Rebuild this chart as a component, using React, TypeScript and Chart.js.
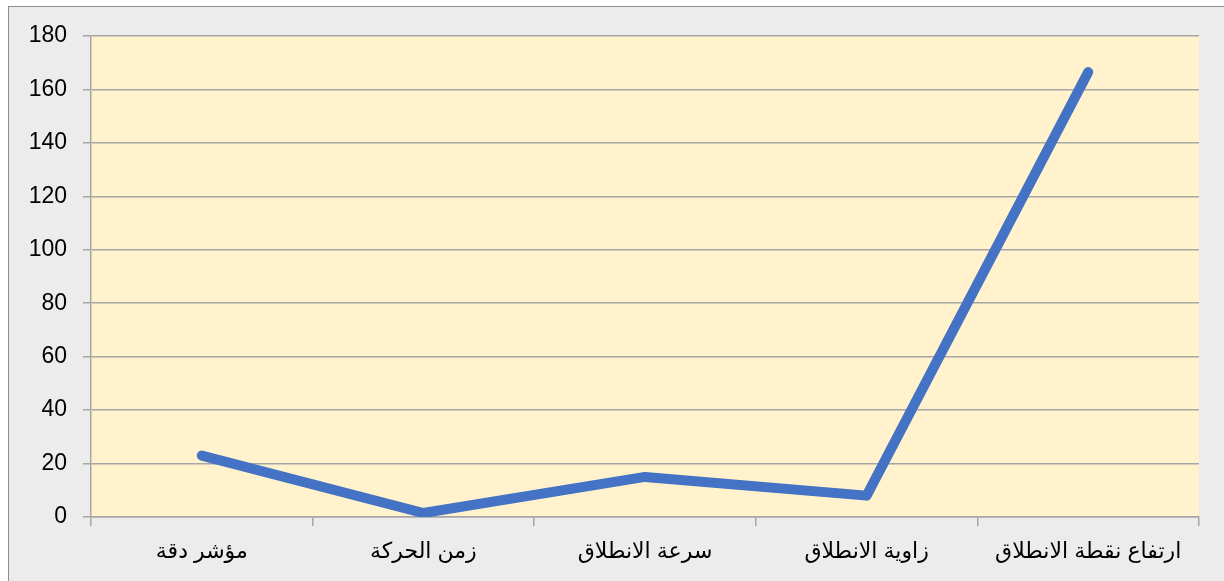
import React, { useEffect, useRef } from "react";
import { Chart, registerables } from "chart.js";

Chart.register(...registerables);

const categories = [
  "مؤشر دقة",
  "زمن الحركة",
  "سرعة الانطلاق",
  "زاوية الانطلاق",
  "ارتفاع نقطة الانطلاق",
];
const values = [23, 1.5, 15, 8, 166.5];
const yMin = 0;
const yMax = 180;
const yStep = 20;

const plotBg = {
  id: "plotBg",
  beforeDraw(chart: any) {
    const { ctx, chartArea } = chart;
    if (!chartArea) return;
    ctx.save();
    ctx.fillStyle = "#FFF2CC";
    ctx.fillRect(chartArea.left, chartArea.top, chartArea.right - chartArea.left, chartArea.bottom - chartArea.top);
    ctx.restore();
  },
};

export default function App() {
  const ref = useRef<HTMLCanvasElement>(null);
  useEffect(() => {
    if (!ref.current) return;
    const family = "'Liberation Sans', 'DejaVu Sans', Arial, sans-serif";
    const chart = new Chart(ref.current, {
      type: "line",
      data: {
        labels: categories,
        datasets: [
          {
            data: values,
            borderColor: "#4472C4",
            borderWidth: 10,
            borderCapStyle: "round",
            borderJoinStyle: "round",
            pointRadius: 0,
            fill: false,
            tension: 0,
          },
        ],
      },
      options: {
        animation: false,
        responsive: false,
        maintainAspectRatio: false,
        layout: { padding: { left: 0, top: 36, right: 25, bottom: 0 } },
        plugins: { legend: { display: false }, tooltip: { enabled: false } },
        scales: {
          x: {
            type: "category",
            offset: true,
            grid: {
              offset: true,
              drawOnChartArea: false,
              drawTicks: true,
              tickLength: 9,
              color: "#A6A6A6",
              lineWidth: 1.5,
            },
            border: { display: true, color: "#A6A6A6", width: 1.5 },
            ticks: { font: { family, size: 22 }, color: "#000000", padding: 13, maxRotation: 0, autoSkip: false },
            afterFit(scale: any) {
              scale.height = 64;
            },
          },
          y: {
            min: yMin,
            max: yMax,
            ticks: { stepSize: yStep, font: { family, size: 23 }, color: "#000000", padding: 16 },
            grid: {
              color: "#A6A6A6",
              lineWidth: 1.5,
              drawTicks: true,
              tickLength: 8,
            },
            border: { display: true, color: "#A6A6A6", width: 1.5 },
            afterFit(scale: any) {
              scale.width = 91;
            },
          },
        },
      },
      plugins: [plotBg],
    });
    return () => chart.destroy();
  }, []);
  return (
    <div style={{ position: "fixed", left: 0, top: 0, width: 1224, height: 581, background: "#FFFFFF" }}>
      <div
        style={{
          position: "absolute",
          left: 8,
          top: 6,
          width: 1230,
          height: 590,
          background: "#ECECEC",
          borderLeft: "1.5px solid #8F8F8F",
          borderTop: "1.5px solid #8F8F8F",
        }}
      />
      <canvas ref={ref} width={1224} height={581} style={{ position: "absolute", left: 0, top: 0 }} />
    </div>
  );
}
